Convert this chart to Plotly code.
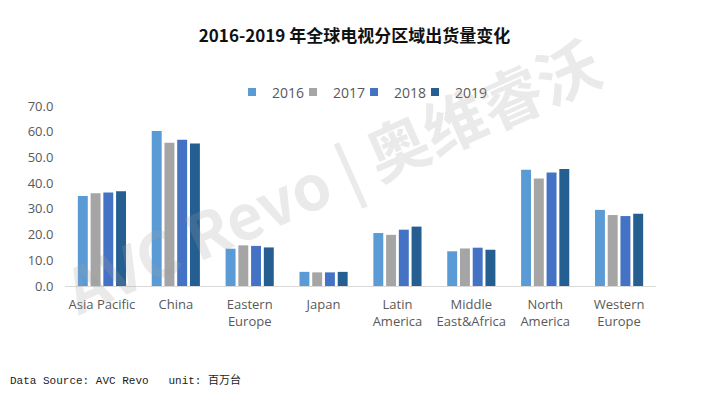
import plotly.graph_objects as go

categories = ["Asia Pacific", "China", "Eastern<br>Europe", "Japan", "Latin<br>America",
              "Middle<br>East&Africa", "North<br>America", "Western<br>Europe"]
years = ["2016", "2017", "2018", "2019"]
v2016 = [35.0, 60.3, 14.5, 5.5, 20.6, 13.5, 45.2, 29.6]
v2017 = [36.1, 55.7, 15.8, 5.3, 19.9, 14.6, 41.8, 27.6]
v2018 = [36.4, 56.9, 15.6, 5.3, 21.9, 14.9, 44.1, 27.2]
v2019 = [36.8, 55.4, 15.0, 5.5, 23.1, 14.1, 45.5, 28.1]
series = [v2016, v2017, v2018, v2019]
colors = ["#5B9BD5", "#A5A5A5", "#4472C4", "#255E91"]
ytickvals = [0, 10, 20, 30, 40, 50, 60, 70]
yticktext = ["0.0", "10.0", "20.0", "30.0", "40.0", "50.0", "60.0", "70.0"]

fig = go.Figure()
for name, vals, c in zip(years, series, colors):
    fig.add_trace(go.Bar(x=categories, y=vals, name=name, marker_color=c,
                         marker_line_width=0, showlegend=False, legendgroup=name))
for name, c in zip(years, colors):
    fig.add_trace(go.Scatter(x=[None], y=[None], mode="markers", name=name,
                             legendgroup=name,
                             marker=dict(symbol="square", size=8, color=c)))
# spacer entry so the last legend label is not clipped
fig.add_trace(go.Scatter(x=[None], y=[None], mode="markers", name=" ",
                         marker=dict(symbol="square", size=8, color="rgba(0,0,0,0)")))

fig.update_layout(
    width=709, height=403,
    margin=dict(l=65, r=53, t=106, b=117),
    paper_bgcolor="white", plot_bgcolor="white",
    barmode="group", bargap=0.31, bargroupgap=0.22,
    font=dict(family="Open Sans, Noto Sans", color="#595959", size=12),
    title=dict(text="<b>2016-2019 年全球电视分区域出货量变化</b>",
               x=0.5, xanchor="center", y=0.91, yanchor="middle",
               font=dict(family="Noto Sans CJK SC", size=17, color="#111111")),
    legend=dict(orientation="h", x=0.2826, xanchor="left", y=1.075, yanchor="middle",
                font=dict(size=14, color="#595959"), itemwidth=30,
                entrywidth=16, entrywidthmode="pixels",
                traceorder="normal"),
    showlegend=True,
)
fig.update_xaxes(showline=True, linecolor="#D9D9D9", linewidth=1, ticks="",
                 tickfont=dict(size=13, color="#595959"), showgrid=False,
                 ticklabelstandoff=6)
fig.update_yaxes(range=[0, 70], tickvals=ytickvals, ticktext=yticktext,
                 showgrid=False, zeroline=False, showline=False,
                 tickfont=dict(size=13, color="#595959"), ticklen=8, ticks="outside",
                 tickcolor="white")

fig.add_annotation(text="<b>AVC Revo | 奥维睿沃</b>", xref="paper", yref="paper",
                   x=0.45, y=0.62, showarrow=False, textangle=-24,
                   font=dict(family="Noto Sans CJK SC", size=62, color="rgba(160,160,160,0.22)"))

fig.add_annotation(text="Data Source: AVC Revo   unit: 百万台", xref="paper", yref="paper",
                   x=-0.0964, y=-0.522, xanchor="left", yanchor="middle", showarrow=False,
                   font=dict(family="Liberation Mono, Noto Sans CJK SC", size=11, color="#222222"))

fig.write_html("out.html")
